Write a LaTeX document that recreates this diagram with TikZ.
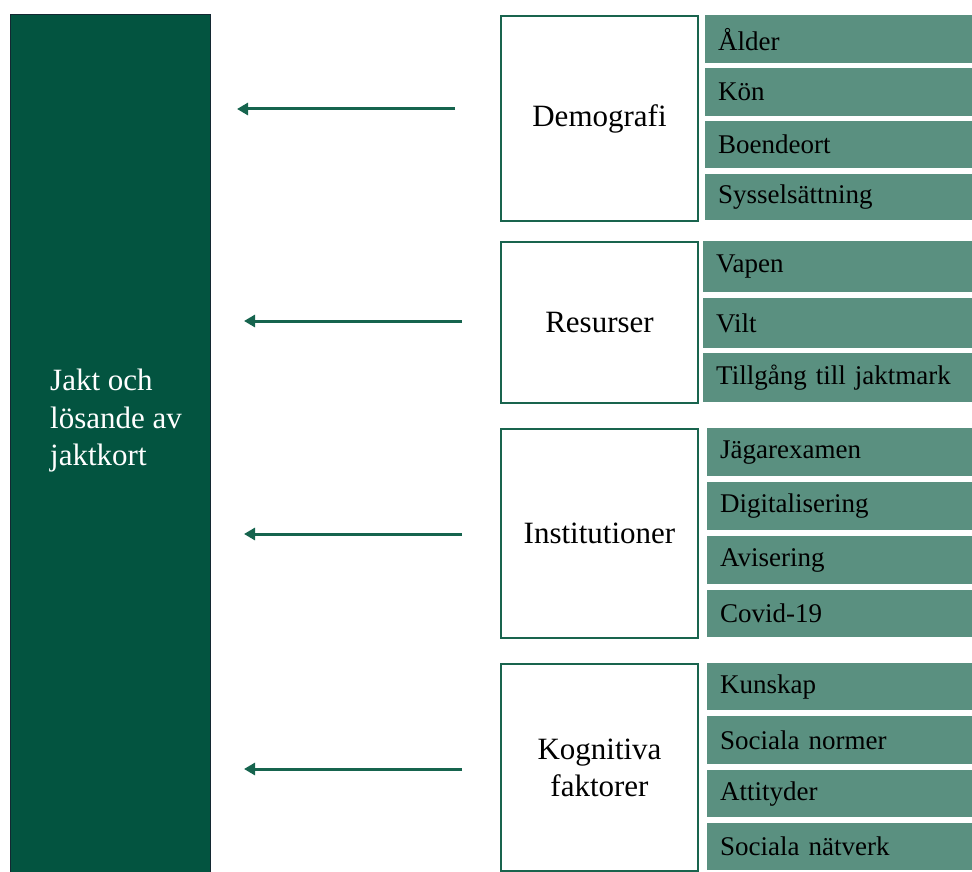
\documentclass[tikz,border=0pt]{standalone}
\usepackage{fontspec}
\setmainfont{Liberation Serif}
\usetikzlibrary{arrows.meta}
\definecolor{bargreen}{RGB}{3,84,64}
\definecolor{itemgreen}{RGB}{90,144,128}
\definecolor{boxgreen}{RGB}{25,100,78}
\definecolor{arrgreen}{RGB}{22,100,78}
\definecolor{barline}{RGB}{20,40,50}
\tikzset{
  bigbar/.style={draw=barline, line width=1pt, fill=bargreen},
  catbox/.style={draw=boxgreen, line width=2pt, fill=white, anchor=north west, minimum width=197pt, inner sep=0pt, align=center, font=\fontsize{31}{37}\selectfont},
  itembox/.style={fill=itemgreen, anchor=north west, minimum width=272pt, text width=246pt, inner xsep=13pt, inner ysep=0pt, align=left, font=\fontsize{27}{31}\selectfont},
  arr/.style={draw=arrgreen, line width=3pt, -{Triangle[length=11pt,width=12pt]}}
}
\begin{document}
\begin{tikzpicture}[x=1pt,y=-1pt]
\useasboundingbox (0,0) rectangle (972,872);
% left bar
\draw[bigbar] (10,15) rectangle (210,874);
\node[anchor=north west, text=white, align=left, inner sep=0pt, font=\fontsize{31}{37.5}\selectfont] (bar) at (50,369) {Jakt och\\lösande av\\jaktkort};
% category boxes
\node[catbox, minimum height=205pt] (demo) at (500,15) {Demografi};
\node[catbox, minimum height=161pt] (res) at (500,241) {Resurser};
\node[catbox, minimum height=209pt] (inst) at (500,428) {Institutioner};
\node[catbox, minimum height=207pt] (kog) at (500,663) {Kognitiva\\faktorer};
% items demografi
\node[itembox, minimum height=48pt] (i1) at (705,15) {Ålder};
\node[itembox, minimum height=48pt] (i2) at (705,68) {Kön};
\node[itembox, minimum height=47pt] (i3) at (705,121) {Boendeort};
\node[itembox, minimum height=46pt] (i4) at (705,174) {Sysselsättning};
% items resurser
\node[itembox, minimum height=51pt] (i5) at (703,241) {Vapen};
\node[itembox, minimum height=50pt] (i6) at (703,298) {Vilt};
\node[itembox, minimum height=49pt] (i7) at (703,353) {Tillgång till jaktmark};
% items institutioner
\node[itembox, minimum height=48pt] (i8) at (707,428) {Jägarexamen};
\node[itembox, minimum height=48pt] (i9) at (707,482) {Digitalisering};
\node[itembox, minimum height=48pt] (i10) at (707,536) {Avisering};
\node[itembox, minimum height=47pt] (i11) at (707,590) {Covid-19};
% items kognitiva
\node[itembox, minimum height=47pt] (i12) at (707,663) {Kunskap};
\node[itembox, minimum height=48pt] (i13) at (707,716) {Sociala normer};
\node[itembox, minimum height=47pt] (i14) at (707,770) {Attityder};
\node[itembox, minimum height=47pt] (i15) at (707,823) {Sociala nätverk};
% arrows
\coordinate (a1s) at (455,109); \coordinate (a1e) at (237,109);
\coordinate (a2s) at (462,321); \coordinate (a2e) at (244,321);
\coordinate (a3s) at (462,534); \coordinate (a3e) at (244,534);
\coordinate (a4s) at (462,769); \coordinate (a4e) at (244,769);
\draw[arr] (a1s) -- (a1e);
\draw[arr] (a2s) -- (a2e);
\draw[arr] (a3s) -- (a3e);
\draw[arr] (a4s) -- (a4e);
\end{tikzpicture}
\end{document}
